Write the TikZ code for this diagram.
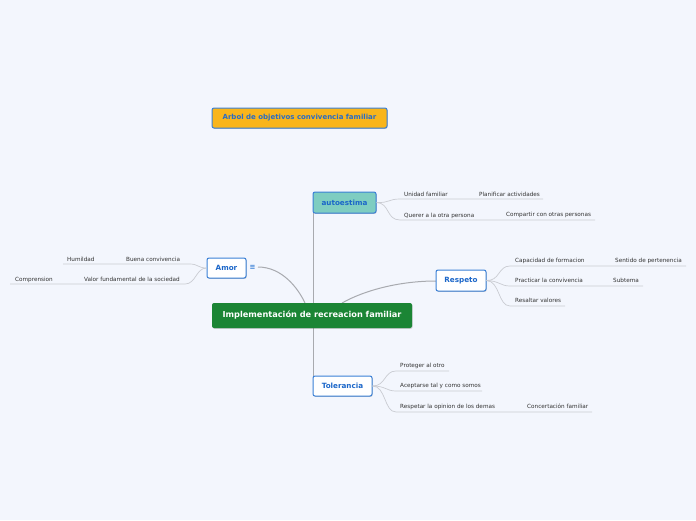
\documentclass[tikz,border=0pt]{standalone}
\usepackage{fontspec}
\setmainfont{DejaVu Sans}
\usetikzlibrary{shadows}
\definecolor{bg}{HTML}{F3F6FD}
\definecolor{bblue}{HTML}{3A80D6}
\definecolor{tblue}{HTML}{1B66C9}
\definecolor{ttitle}{HTML}{2A6CC4}
\definecolor{gold}{HTML}{F9B51B}
\definecolor{teal}{HTML}{7ECDC1}
\definecolor{cgreen}{HTML}{1B8535}
\definecolor{mainline}{HTML}{A8AAAF}
\definecolor{subline}{HTML}{CACCD2}
\definecolor{txt}{HTML}{333333}
\tikzset{
  x=1pt, y=-1pt,
  topicbox/.style={draw=bblue, line width=1pt, rounded corners=2pt, inner sep=0pt,
    font=\fontsize{7.2}{8}\selectfont\bfseries, text=tblue,
    drop shadow={shadow xshift=0.6pt, shadow yshift=-0.8pt, opacity=0.35, fill=black!60}},
  leaf/.style={anchor=base west, inner sep=0pt, text=txt, font=\fontsize{5.7}{6.8}\selectfont},
  conn/.style={draw=mainline, line width=1pt},
  subconn/.style={draw=subline, line width=0.7pt},
}
\begin{document}
\begin{tikzpicture}
\fill[bg] (0,0) rectangle (696,520);
\useasboundingbox (0,0) rectangle (696,520);

% title
\node[topicbox, fill=gold, minimum width=175pt, minimum height=20pt, text=ttitle,
  font=\fontsize{7}{8}\selectfont\bfseries] (title) at (299.5,118) {Arbol de objetivos convivencia familiar};

% connectors from center
\coordinate (amorIcon) at (258,267);
\draw[conn] (313,213) -- (313,376);
\draw[conn] (amorIcon) .. controls (282,267) and (298,288) .. (305,303);
\draw[conn] (342,303) .. controls (365,290) and (400,281) .. (436,281);

% central
\node[draw=none, fill=cgreen, rounded corners=2pt, minimum width=200pt, minimum height=25pt, inner sep=0pt,
  text=white, font=\fontsize{8.2}{9.5}\selectfont\bfseries,
  drop shadow={shadow xshift=0.6pt, shadow yshift=-0.8pt, opacity=0.3, fill=black!60}]
  (center) at (312,315.5) {Implementación de recreacion familiar};

% main topics
\node[topicbox, fill=teal, minimum width=63pt, minimum height=21pt] (auto) at (344.5,202.5) {autoestima};
\node[topicbox, fill=white, minimum width=39pt, minimum height=20pt] (amor) at (226.5,268) {Amor};
\node[topicbox, fill=white, minimum width=50pt, minimum height=21pt] (resp) at (461,280.5) {Respeto};
\node[topicbox, fill=white, minimum width=59pt, minimum height=20pt] (tol) at (342.5,386) {Tolerancia};
\node[inner sep=0pt, text=bblue, font=\fontsize{7}{8}\selectfont\bfseries] (icon) at (252.5,267) {≡};

% autoestima children
\coordinate (a1) at (400,199); \coordinate (a1e) at (543,199);
\coordinate (a2) at (400,220); \coordinate (a2e) at (595,220);
\draw[subconn] (auto.east) .. controls (390,203) and (388,199) .. (a1) -- (a1e);
\draw[subconn] (auto.east) .. controls (390,203) and (386,220) .. (a2) -- (a2e);
\node[leaf] (unidad) at (404,196.5) {Unidad familiar};
\node[leaf] (planif) at (479,196) {Planificar actividades};
\node[leaf] (querer) at (404,217) {Querer a la otra persona};
\node[leaf] (compart) at (506,216.5) {Compartir con otras personas};

% Amor children
\coordinate (m1) at (190,264); \coordinate (m1e) at (63,264);
\coordinate (m2) at (185,284); \coordinate (m2e) at (10,284);
\draw[subconn] (amor.west) .. controls (198,268) and (198,264) .. (m1) -- (m1e);
\draw[subconn] (amor.west) .. controls (196,268) and (196,284) .. (m2) -- (m2e);
\node[leaf] (buena) at (126,261) {Buena convivencia};
\node[leaf] (humil) at (67,261) {Humildad};
\node[leaf] (valor) at (84,281) {Valor fundamental de la sociedad};
\node[leaf] (compr) at (15,281) {Comprension};

% Respeto children
\coordinate (r1) at (510,266); \coordinate (r1e) at (686,266);
\coordinate (r2) at (510,286); \coordinate (r2e) at (643,286);
\coordinate (r3) at (510,306); \coordinate (r3e) at (565,306);
\draw[subconn] (resp.east) .. controls (500,281) and (498,266) .. (r1) -- (r1e);
\draw[subconn] (resp.east) .. controls (500,281) and (500,286) .. (r2) -- (r2e);
\draw[subconn] (resp.east) .. controls (500,281) and (498,306) .. (r3) -- (r3e);
\node[leaf] (capac) at (515,262.5) {Capacidad de formacion};
\node[leaf] (sentido) at (615,262.5) {Sentido de pertenencia};
\node[leaf] (pract) at (515,282.5) {Practicar la convivencia};
\node[leaf] (subt) at (613,282.5) {Subtema};
\node[leaf] (resalt) at (515,302.5) {Resaltar valores};

% Tolerancia children
\coordinate (t1) at (396,371); \coordinate (t1e) at (449,371);
\coordinate (t2) at (396,391); \coordinate (t2e) at (482,391);
\coordinate (t3) at (396,412); \coordinate (t3e) at (592,412);
\draw[subconn] (tol.east) .. controls (386,386) and (384,371) .. (t1) -- (t1e);
\draw[subconn] (tol.east) .. controls (386,386) and (386,391) .. (t2) -- (t2e);
\draw[subconn] (tol.east) .. controls (386,386) and (384,412) .. (t3) -- (t3e);
\node[leaf] (proteg) at (400,367.5) {Proteger al otro};
\node[leaf] (acept) at (400,387.5) {Aceptarse tal y como somos};
\node[leaf] (respet) at (400,408.5) {Respetar la opinion de los demas};
\node[leaf] (concert) at (527,408.5) {Concertación familiar};
\end{tikzpicture}
\end{document}
